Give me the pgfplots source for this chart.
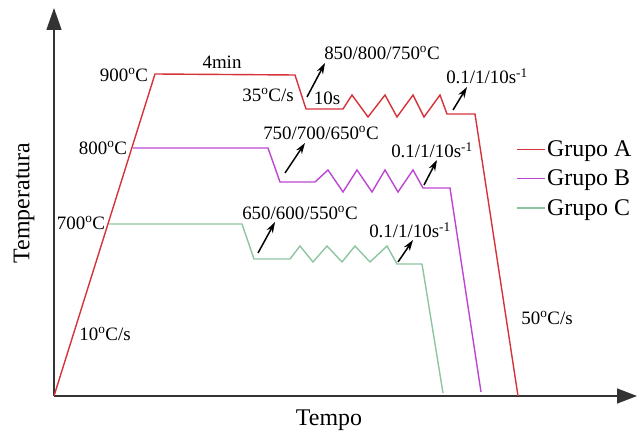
\documentclass[border=0pt]{standalone}
\usepackage{pgfplots}
\pgfplotsset{compat=1.18}
\usepackage{fontspec}
\setmainfont{Liberation Serif}
\usetikzlibrary{arrows.meta}

\definecolor{grpA}{HTML}{D6323A}
\definecolor{grpB}{HTML}{BC45D2}
\definecolor{grpC}{HTML}{8EC4A2}
\definecolor{axisgray}{HTML}{333333}

\newcommand{\dg}{\textsuperscript{o}}
\newcommand{\ann}{\fontsize{19}{22}\selectfont}

\begin{document}
\begin{tikzpicture}
\begin{axis}[
  scale only axis, width=583bp, height=388bp,
  xmin=54, xmax=637, ymin=36, ymax=424,
  axis lines=left, ticks=none,
  axis line style={axisgray, line width=1.4bp},
  x axis line style={-{Triangle[length=20bp,width=15bp]}},
  y axis line style={-{Triangle[length=22bp,width=15bp]}},
  clip=false,
  every axis plot/.append style={line width=1.4bp, line join=miter},
  legend cell align=left,
  legend image code/.code={\draw[#1] (0bp,0bp) -- (28bp,0bp);},
  legend style={at={(axis cs:516,293)}, anchor=north west, draw=none, fill=none,
    font=\fontsize{24}{24}\selectfont, row sep=9bp, inner sep=0pt,
    nodes={inner sep=1.5bp}},
]
% Grupo A: heat to 900 C, hold, cool to deformation temperature, cycles, quench
\addplot[grpA] coordinates {
  (54,36) (155,358) (295,357) (306,323) (343,323) (352,337) (368,315)
  (385,337) (397,315) (413,337) (424,315) (440,337) (447,318) (475,318) (518,36)};
\addlegendentry{Grupo A}
% Grupo B: hold at 800 C
\addplot[grpB] coordinates {
  (133,284) (268,284) (280,250) (315,250) (328,262) (343,240) (357,262)
  (372,240) (385,262) (398,240) (413,262) (423,244) (450,244) (481,40)};
\addlegendentry{Grupo B}
% Grupo C: hold at 700 C
\addplot[grpC] coordinates {
  (109,208) (242,208) (254,173) (290,173) (300,186) (313,170) (327,186)
  (342,170) (355,186) (370,170) (387,186) (397,168) (422,168) (443,39)};
\addlegendentry{Grupo C}

% process annotations
\begin{scope}[font=\ann]
\node at (axis cs:124,357) {900\dg C};
\node at (axis cs:103,284) {800\dg C};
\node at (axis cs:81,209) {700\dg C};
\node at (axis cs:105,98) {10\dg C/s};
\node at (axis cs:222,370) {4min};
\node at (axis cs:268,337) {35\dg C/s};
\node at (axis cs:327,334) {10s};
\node at (axis cs:382,379) {850/800/750\dg C};
\node at (axis cs:487,356) {0.1/1/10s\textsuperscript{-1}};
\node at (axis cs:321,299) {750/700/650\dg C};
\node at (axis cs:432,282) {0.1/1/10s\textsuperscript{-1}};
\node at (axis cs:300,219) {650/600/550\dg C};
\node at (axis cs:410,202) {0.1/1/10s\textsuperscript{-1}};
\node at (axis cs:547,114) {50\dg C/s};
\end{scope}

\begin{scope}[black, line width=1.5bp, -{Stealth[length=11bp,width=7bp]}]
\draw (axis cs:307,335) -- (axis cs:325,369);
\draw (axis cs:453,322) -- (axis cs:467,345);
\draw (axis cs:285,259) -- (axis cs:305,289);
\draw (axis cs:424,247) -- (axis cs:437,272);
\draw (axis cs:258,179) -- (axis cs:275,210);
\draw (axis cs:398,170) -- (axis cs:413,192);
\end{scope}

\node[rotate=90, font=\fontsize{24}{24}\selectfont] at (axis cs:24,229) {Temperatura};
\node[font=\fontsize{24}{24}\selectfont] at (axis cs:329,12) {Tempo};
\end{axis}
\pgfresetboundingbox
\path[use as bounding box] (-54bp,-36bp) rectangle (583bp,396bp);
\end{tikzpicture}
\end{document}
